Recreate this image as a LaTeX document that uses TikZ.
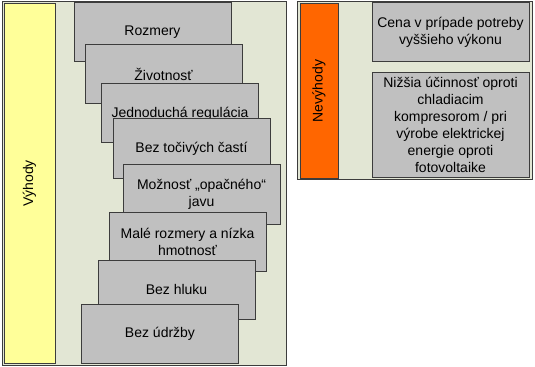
\documentclass[tikz,border=0pt]{standalone}
\usepackage{fontspec}
\setmainfont{Liberation Sans}
\definecolor{panelbg}{RGB}{226,230,212}
\definecolor{barYellow}{RGB}{255,255,153}
\definecolor{barOrange}{RGB}{255,102,0}
\definecolor{boxgray}{RGB}{192,192,192}
\definecolor{edgegray}{RGB}{60,60,60}
\begin{document}
\begin{tikzpicture}[x=0.75pt,y=-0.75pt,
  panel/.style={draw=edgegray,fill=panelbg,line width=0.75pt},
  sidebar/.style={draw=edgegray,line width=0.75pt,inner sep=0pt,outer sep=0pt,font=\fontsize{10.5}{12.75}\selectfont},
  itembox/.style={draw=edgegray,fill=boxgray,line width=0.75pt,inner sep=0pt,outer sep=0pt,
    minimum width=117.75pt,minimum height=44.25pt,align=center,font=\fontsize{10.5}{12.75}\selectfont}]
\useasboundingbox (0,0) rectangle (535,367);
% frames
\draw[panel] (2,1.5) rectangle (286,365);
\draw[panel] (297,1.5) rectangle (532,179.5);
% left side: advantages
\node[sidebar,fill=barYellow,minimum width=38.25pt,minimum height=269.25pt] (vyhody) at (29.5,183.5) {};
\node[rotate=90,font=\fontsize{10.5}{12.75}\selectfont] (vyhodyText) at (vyhody.center) {Výhody};
\node[itembox] (rozmery) at (152.5,32.5) {Rozmery};
\node[itembox] (zivotnost) at (163.5,74.5) {Životnosť};
\node[itembox] (regulacia) at (180,113.5) {Jednoduchá regulácia};
\node[itembox] (tocive) at (191.5,148.5) {Bez točivých častí};
\node[itembox] (opacny) at (201.5,194.5) {Možnosť „opačného“\\javu};
\node[itembox] (male) at (187.5,241.5) {Malé rozmery a nízka\\hmotnosť};
\node[itembox] (hluk) at (176.5,289.5) {Bez hluku};
\node[itembox] (udrzba) at (160,333.5) {Bez údržby};
% right side: disadvantages
\node[sidebar,fill=barOrange,minimum width=28.5pt,minimum height=130.5pt] (nevyhody) at (319,91) {};
\node[rotate=90,font=\fontsize{10.5}{12.75}\selectfont] (nevyhodyText) at (nevyhody.center) {Nevýhody};
\node[itembox] (cena) at (450.5,32.5) {Cena v prípade potreby\\vyššieho výkonu};
\node[itembox,minimum height=78pt] (ucinnost) at (450.5,125) {Nižšia účinnosť oproti\\chladiacim\\kompresorom / pri\\výrobe elektrickej\\energie oproti\\fotovoltaike};
\end{tikzpicture}
\end{document}
